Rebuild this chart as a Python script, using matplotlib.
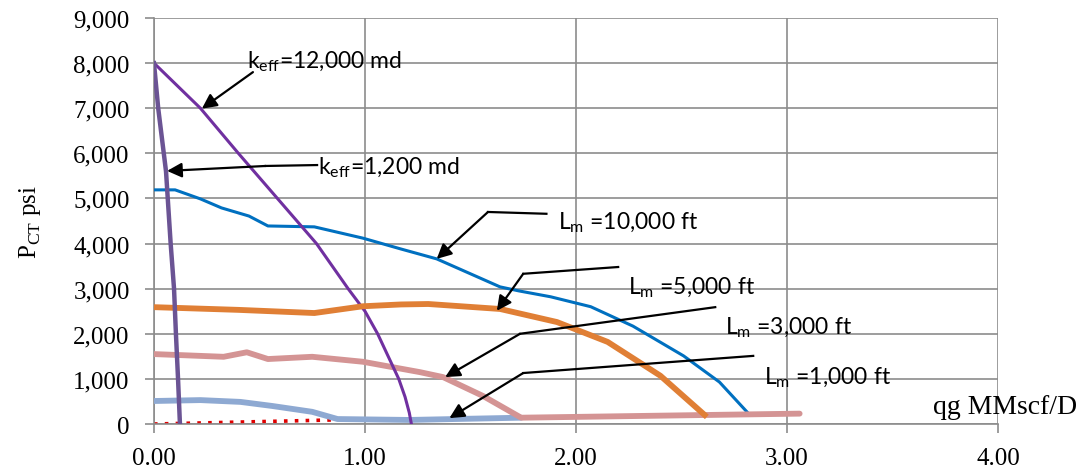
import numpy as np
import matplotlib
import matplotlib.pyplot as plt
from matplotlib.ticker import FuncFormatter, MultipleLocator

matplotlib.use('agg')

plt.rcParams['font.family'] = ['Liberation Serif', 'DejaVu Serif']
plt.rcParams['mathtext.fontset'] = 'custom'
plt.rcParams['mathtext.rm'] = 'Liberation Serif'
plt.rcParams['mathtext.sf'] = 'Lato'

# curves (qg in MMscf/D, P_CT in psi)
k12000_x = [0.00, 0.22, 0.40, 0.585, 0.77, 0.92, 1.00, 1.06, 1.12, 1.16, 1.19, 1.21, 1.22]
k12000_y = [8000, 7000, 6000, 5000, 4000, 3000, 2500, 2000, 1400, 1000, 600, 250, 0]

k1200_x = [0.000, 0.020, 0.057, 0.079, 0.095, 0.104, 0.114, 0.123]
k1200_y = [8000, 7000, 5600, 4000, 3000, 2000, 1000, 0]

lm10000_x = [0.00, 0.10, 0.22, 0.32, 0.45, 0.54, 0.76, 0.99, 1.17, 1.34, 1.64, 1.73, 1.88, 2.07, 2.27, 2.51, 2.68, 2.82]
lm10000_y = [5190, 5190, 4990, 4790, 4610, 4390, 4370, 4120, 3880, 3660, 3040, 2950, 2820, 2600, 2170, 1510, 930, 220]

lm5000_x = [0.00, 0.40, 0.76, 0.99, 1.17, 1.30, 1.64, 1.91, 2.15, 2.40, 2.61]
lm5000_y = [2590, 2530, 2460, 2610, 2650, 2660, 2550, 2260, 1820, 1070, 200]

lm3000_x = [0.00, 0.33, 0.44, 0.54, 0.75, 0.99, 1.26, 1.37, 1.56, 1.74, 3.06]
lm3000_y = [1550, 1490, 1590, 1440, 1490, 1380, 1150, 1040, 620, 140, 230]

lm1000_x = [0.00, 0.22, 0.41, 0.56, 0.75, 0.87, 1.21, 1.74]
lm1000_y = [510, 530, 490, 400, 270, 110, 90, 140]

base_x = [0.00, 0.85]
base_y = [0, 90]

fig = plt.figure(figsize=(10.89, 4.77), dpi=100)
ax = fig.add_axes([0.1414, 0.1090, 0.775, 0.8512])

ax.plot(base_x, base_y, linestyle=(0, (1, 2.0)), color='#E00000', lw=2.6, zorder=2)
ax.plot(lm1000_x, lm1000_y, color='#8EA9D2', lw=4.2, zorder=3, solid_capstyle='round')
ax.plot(lm3000_x, lm3000_y, color='#D49494', lw=4.2, zorder=4, solid_capstyle='round')
ax.plot(lm5000_x, lm5000_y, color='#E07F35', lw=4.2, zorder=5)
ax.plot(k12000_x, k12000_y, color='#7030A0', lw=2.2, zorder=4)
ax.plot(lm10000_x, lm10000_y, color='#0070C0', lw=2.2, zorder=3)
ax.plot(k1200_x, k1200_y, color='#6B5494', lw=3.2, zorder=6)

# annotation arrows: (bend points ..., tip)
arrows = [
    [(0.469, 7800), (0.227, 6990)],
    [(0.773, 5740), (0.53, 5720), (0.062, 5610)],
    [(1.86, 4660), (1.583, 4700), (1.34, 3660)],
    [(2.20, 3480), (1.75, 3330), (1.625, 2510)],
    [(2.66, 2590), (1.735, 2000), (1.38, 1040)],
    [(2.84, 1510), (1.75, 1130), (1.40, 130)],
]
for pts in arrows:
    xs = [p[0] for p in pts[:-1]]
    ys = [p[1] for p in pts[:-1]]
    ax.plot(xs, ys, color='black', lw=1.6, zorder=7)
    ax.annotate('', xy=pts[-1], xytext=pts[-2],
                arrowprops=dict(arrowstyle='-|>', color='black', lw=1.6,
                                mutation_scale=22, shrinkA=0, shrinkB=0),
                zorder=7)

labels = [
    (0.44, 8050, r'k$_{\mathsf{eff}}$=12,000 md'),
    (0.775, 5700, r'k$_{\mathsf{eff}}$=1,200 md'),
    (1.915, 4480, r'L$_{\mathsf{m}}$ =10,000 ft'),
    (2.246, 3040, r'L$_{\mathsf{m}}$ =5,000 ft'),
    (2.706, 2170, r'L$_{\mathsf{m}}$ =3,000 ft'),
    (2.89, 1060, r'L$_{\mathsf{m}}$ =1,000 ft'),
]
for x, y, s in labels:
    ax.text(x, y, s, family='Lato', fontsize=16.5, va='center', ha='left', zorder=8)

ax.text(3.69, 380, 'qg MMscf/D', fontsize=20, va='center', ha='left', zorder=8)

ax.set_xlim(0, 4)
ax.set_ylim(0, 9000)
ax.xaxis.set_major_locator(MultipleLocator(1))
ax.yaxis.set_major_locator(MultipleLocator(1000))
ax.xaxis.set_major_formatter(FuncFormatter(lambda v, p: f'{v:.2f}'))
ax.yaxis.set_major_formatter(FuncFormatter(lambda v, p: f'{v:,.0f}'))
ax.grid(True, color='#8C8C8C', lw=1.2)
ax.set_axisbelow(True)
for side in ['top', 'right']:
    ax.spines[side].set_visible(False)
for side in ['left', 'bottom']:
    ax.spines[side].set_color('#8C8C8C')
    ax.spines[side].set_linewidth(1.2)
ax.tick_params(axis='both', length=6.5, width=1.2, color='#8C8C8C', labelsize=18)
ax.tick_params(axis='y', pad=11)
ax.tick_params(axis='x', pad=10)
ax.set_ylabel(r'P$_{\mathrm{CT}}$ psi', fontsize=18, labelpad=22)

plt.savefig('out.png', dpi=100)
plt.close('all')
